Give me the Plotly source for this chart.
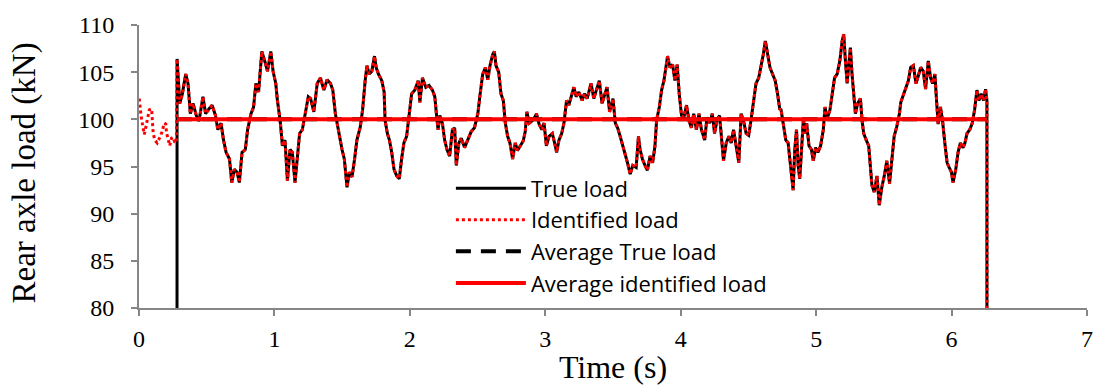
import plotly.graph_objects as go

# Measured rear axle load (kN) over time (s); the signal is zero outside the crossing window
time_true = [
    0.280, 0.281, 0.301, 0.320, 0.345, 0.362, 0.379, 0.399, 0.423, 0.443, 0.472, 0.492, 0.516,
    0.540, 0.565, 0.582, 0.606, 0.624, 0.643, 0.668, 0.685, 0.704, 0.724, 0.741, 0.761,
    0.785, 0.802, 0.827, 0.846, 0.863, 0.883, 0.907, 0.932, 0.949, 0.973, 0.990, 1.010,
    1.022, 1.042, 1.059, 1.078, 1.096, 1.115, 1.132, 1.152, 1.169, 1.186, 1.206, 1.230,
    1.250, 1.267, 1.291, 1.316, 1.340, 1.365, 1.389, 1.414, 1.431, 1.450, 1.470, 1.487,
    1.499, 1.516, 1.536, 1.553, 1.573, 1.592, 1.609, 1.634, 1.651, 1.670, 1.683, 1.700,
    1.719, 1.739, 1.751, 1.768, 1.793, 1.810, 1.817, 1.834, 1.849, 1.866, 1.883, 1.903,
    1.922, 1.939, 1.956, 1.976, 1.996, 2.013, 2.037, 2.062, 2.074, 2.093, 2.118, 2.142,
    2.167, 2.184, 2.196, 2.208, 2.221, 2.240, 2.257, 2.274, 2.294, 2.314, 2.331, 2.343,
    2.362, 2.380, 2.404, 2.428, 2.453, 2.477, 2.502, 2.519, 2.538, 2.558, 2.575, 2.592,
    2.612, 2.624, 2.636, 2.656, 2.673, 2.690, 2.705, 2.722, 2.739, 2.759, 2.778, 2.795,
    2.820, 2.837, 2.852, 2.864, 2.881, 2.900, 2.918, 2.935, 2.954, 2.974, 2.991, 3.008,
    3.028, 3.052, 3.072, 3.084, 3.101, 3.121, 3.138, 3.157, 3.174, 3.194, 3.211, 3.228,
    3.248, 3.272, 3.289, 3.309, 3.328, 3.338, 3.358, 3.377, 3.399, 3.419, 3.436, 3.456,
    3.475, 3.500, 3.517, 3.534, 3.553, 3.573, 3.590, 3.607, 3.627, 3.646, 3.671, 3.688,
    3.700, 3.717, 3.737, 3.754, 3.774, 3.793, 3.810, 3.822, 3.842, 3.859, 3.876, 3.891,
    3.903, 3.920, 3.940, 3.957, 3.974, 3.989, 4.006, 4.023, 4.043, 4.062, 4.079, 4.096,
    4.116, 4.135, 4.153, 4.177, 4.194, 4.214, 4.233, 4.250, 4.268, 4.287, 4.304, 4.316,
    4.336, 4.356, 4.373, 4.390, 4.409, 4.429, 4.446, 4.463, 4.483, 4.502, 4.519, 4.537,
    4.556, 4.576, 4.593, 4.610, 4.625, 4.642, 4.659, 4.678, 4.698, 4.715, 4.732, 4.740,
    4.752, 4.764, 4.776, 4.793, 4.808, 4.820, 4.830, 4.842, 4.855, 4.867, 4.879, 4.891,
    4.906, 4.916, 4.930, 4.947, 4.965, 4.979, 4.996, 5.013, 5.033, 5.053, 5.065, 5.082,
    5.102, 5.119, 5.136, 5.155, 5.175, 5.192, 5.204, 5.216, 5.229, 5.241, 5.253, 5.265,
    5.278, 5.290, 5.307, 5.327, 5.339, 5.351, 5.370, 5.388, 5.400, 5.412, 5.429, 5.449,
    5.466, 5.485, 5.503, 5.522, 5.542, 5.559, 5.576, 5.595, 5.615, 5.625, 5.644, 5.664,
    5.681, 5.698, 5.718, 5.737, 5.754, 5.772, 5.791, 5.808, 5.828, 5.845, 5.860, 5.877,
    5.889, 5.901, 5.918, 5.933, 5.950, 5.967, 5.982, 5.999, 6.011, 6.031, 6.048, 6.065,
    6.085, 6.099, 6.114, 6.134, 6.153, 6.170, 6.187, 6.202, 6.219, 6.236, 6.251, 6.261,
    6.262,
]
load_true = [
    0.0, 106.4, 101.7, 102.7, 104.8, 103.8, 100.6, 101.7, 100.4, 99.8, 102.4, 100.6, 101.1,
    101.5, 100.4, 98.9, 99.6, 97.8, 96.5, 95.8, 93.3, 94.7, 94.4, 93.3, 96.5,
    96.8, 98.9, 100.6, 101.3, 103.8, 102.9, 107.2, 106.0, 105.1, 107.2, 105.1, 103.8,
    102.0, 99.9, 97.2, 97.8, 93.5, 96.8, 96.5, 93.3, 95.8, 98.5, 98.9, 100.6,
    102.4, 102.2, 100.8, 103.8, 104.4, 103.1, 104.2, 103.8, 103.1, 100.6, 98.9, 97.8,
    96.8, 95.8, 92.8, 94.4, 93.9, 95.8, 97.8, 99.2, 101.0, 104.1, 105.7, 104.8,
    105.1, 106.7, 105.5, 104.8, 104.1, 102.9, 99.9, 98.5, 97.8, 96.5, 94.7, 94.0,
    93.7, 95.8, 97.5, 98.2, 100.6, 102.7, 103.1, 104.1, 101.8, 104.4, 103.4, 103.6,
    103.1, 102.4, 100.6, 98.9, 100.4, 99.6, 97.8, 96.8, 96.1, 98.9, 99.1, 95.1,
    97.5, 98.0, 97.0, 97.8, 98.7, 99.1, 100.6, 102.7, 104.8, 105.5, 104.2, 105.7,
    106.9, 107.2, 105.7, 105.0, 102.7, 102.0, 99.6, 98.2, 97.5, 95.8, 97.5, 96.7,
    97.3, 97.7, 98.7, 100.8, 99.6, 99.8, 100.1, 100.6, 99.5, 98.9, 99.6, 97.2,
    98.2, 98.5, 97.3, 96.5, 97.8, 98.5, 99.6, 102.0, 101.5, 102.6, 103.4, 102.4,
    102.9, 102.0, 102.7, 102.2, 103.2, 103.8, 102.2, 103.1, 104.1, 101.7, 102.6, 103.4,
    100.8, 102.2, 99.6, 99.1, 98.2, 97.2, 96.1, 95.4, 94.2, 95.1, 94.9, 98.2,
    96.8, 95.8, 95.1, 94.6, 96.1, 95.4, 97.2, 99.9, 101.3, 103.1, 104.1, 105.5,
    106.7, 105.5, 105.8, 104.1, 105.8, 102.7, 100.4, 100.2, 101.5, 99.8, 99.1, 100.6,
    98.9, 100.6, 98.9, 97.8, 100.2, 99.6, 100.6, 98.5, 99.9, 100.4, 97.8, 95.6,
    97.5, 98.2, 97.5, 98.9, 97.2, 95.4, 100.6, 99.9, 98.5, 98.3, 99.9, 101.7,
    103.8, 104.4, 105.5, 106.9, 108.3, 106.9, 105.5, 104.8, 104.1, 102.7, 101.0, 101.1,
    99.9, 98.5, 97.8, 97.5, 95.4, 93.7, 92.5, 96.8, 98.9, 95.1, 93.7, 96.5,
    100.1, 98.5, 99.6, 97.2, 96.8, 95.6, 97.0, 96.5, 97.2, 98.9, 101.3, 100.1,
    101.0, 102.7, 104.4, 104.8, 106.2, 108.3, 109.0, 106.2, 103.8, 105.8, 107.6, 104.8,
    102.0, 100.6, 101.7, 102.2, 99.9, 98.5, 97.8, 97.2, 95.1, 93.0, 92.3, 94.0,
    90.9, 92.8, 94.0, 95.6, 93.2, 96.1, 98.2, 99.2, 100.6, 101.8, 102.7, 103.4,
    104.1, 105.5, 105.7, 103.8, 104.6, 105.5, 105.1, 103.2, 106.2, 104.4, 103.8, 104.8,
    102.0, 99.5, 101.3, 99.9, 97.5, 95.4, 94.9, 94.4, 93.3, 94.7, 96.5, 97.5,
    97.0, 97.5, 98.5, 98.9, 99.6, 101.0, 103.1, 102.0, 102.7, 102.0, 103.2, 102.0,
    0.0,
]

# Identified load before the axle reaches the measuring span
time_lead = [
    0.002, 0.007, 0.015, 0.024, 0.039, 0.051, 0.061, 0.076, 0.093, 0.098, 0.100, 0.105,
    0.117, 0.134, 0.154, 0.171, 0.186, 0.198, 0.203, 0.215, 0.227, 0.240, 0.252, 0.264,
    0.276,
]
load_lead = [
    102.2, 101.3, 100.4, 99.6, 98.4, 99.2, 100.1, 101.0, 101.1, 100.3, 99.2, 98.5,
    97.8, 97.5, 98.1, 98.7, 99.6, 99.5, 98.6, 97.9, 97.2, 98.0, 98.1, 97.6,
    97.5,
]

# Identified load follows the true load once the axle is on the span
time_identified = time_lead + time_true[1:]
load_identified = load_lead + load_true[1:]

# Mean loads over the crossing window
avg_window = [0.281, 6.261]
avg_true_load = 100.0
avg_identified_load = 100.0

AXIS_GREY = "#868686"
SERIF = "Liberation Serif, Times New Roman, serif"

fig = go.Figure()
fig.add_trace(go.Scatter(
    x=time_true, y=load_true, mode="lines", name="True load",
    line=dict(color="black", width=3), legendgroup="a",
))
fig.add_trace(go.Scatter(
    x=time_identified, y=load_identified, mode="lines", name="Identified load",
    line=dict(color="#ff0000", width=3, dash="dot"), legendgroup="b",
))
fig.add_trace(go.Scatter(
    x=avg_window, y=[avg_true_load] * 2, mode="lines", name="Average True load",
    line=dict(color="black", width=4, dash="15px,10px"), legendgroup="c",
))
fig.add_trace(go.Scatter(
    x=avg_window, y=[avg_identified_load] * 2, mode="lines", name="Average identified load",
    line=dict(color="#ff0000", width=4), legendgroup="d",
))

axis_common = dict(
    showgrid=False, zeroline=False, showline=True, linecolor=AXIS_GREY, linewidth=2,
    ticks="outside", ticklen=6, tickwidth=1.5, tickcolor=AXIS_GREY,
    tickfont=dict(family=SERIF, size=24, color="black"),
)

fig.update_layout(
    width=1105, height=392,
    margin=dict(l=139, r=12, t=20, b=84),
    paper_bgcolor="white", plot_bgcolor="white",
    xaxis=dict(range=[0, 7], dtick=1, tick0=0, ticklabelstandoff=2,
               title=dict(text="Time (s)", font=dict(family=SERIF, size=32, color="black"), standoff=5),
               **axis_common),
    yaxis=dict(range=[80, 110], dtick=5, tick0=80, ticklabelstandoff=12, **axis_common),
    annotations=[dict(
        text="Rear axle load (kN)", textangle=-90, showarrow=False,
        xref="paper", yref="paper", x=-0.1205, y=0.478, xanchor="center", yanchor="middle",
        font=dict(family=SERIF, size=33, color="black"),
    )],
    legend=dict(
        x=0.329, y=0.497, xanchor="left", yanchor="top",
        bgcolor="rgba(255,255,255,0)", borderwidth=0,
        font=dict(family="Open Sans, sans-serif", size=22, color="black"),
        traceorder="grouped", tracegroupgap=0, itemwidth=70,
    ),
    showlegend=True,
)

fig.write_html("out.html")
